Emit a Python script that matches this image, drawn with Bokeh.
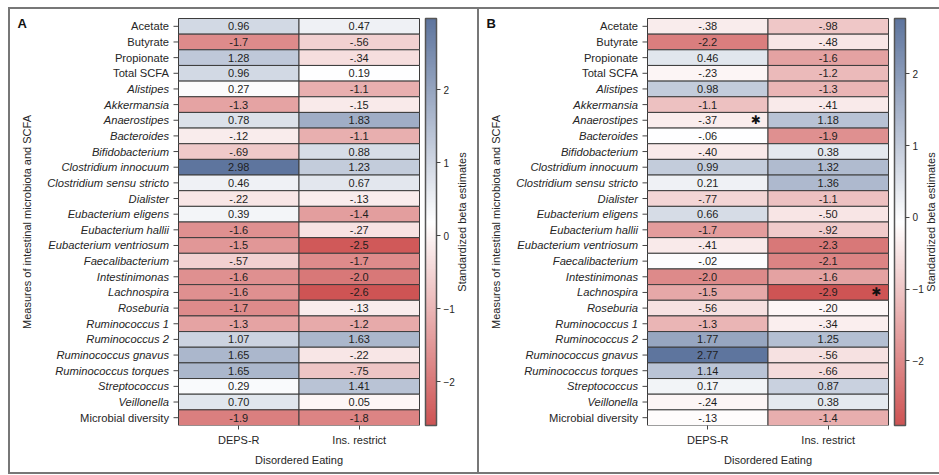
from math import pi
from bokeh.plotting import figure
from bokeh.models import (ColumnDataSource, LinearColorMapper, ColorBar, FixedTicker, Range1d, Title)
from bokeh.layouts import row
from bokeh.embed import file_html
from bokeh.resources import INLINE
from bokeh.transform import transform
from bokeh.core.properties import value, field

# ---------------- data ----------------
rows = ["Acetate", "Butyrate", "Propionate", "Total SCFA", "Alistipes", "Akkermansia",
        "Anaerostipes", "Bacteroides", "Bifidobacterium", "Clostridium innocuum",
        "Clostridium sensu stricto", "Dialister", "Eubacterium eligens", "Eubacterium hallii",
        "Eubacterium ventriosum", "Faecalibacterium", "Intestinimonas", "Lachnospira",
        "Roseburia", "Ruminococcus 1", "Ruminococcus 2", "Ruminococcus gnavus",
        "Ruminococcus torques", "Streptococcus", "Veillonella", "Microbial diversity"]
plain_rows = ["Acetate", "Butyrate", "Propionate", "Total SCFA", "Microbial diversity"]
cols = ["DEPS-R", "Ins. restrict"]

a_deps = [0.96, -1.7, 1.28, 0.96, 0.27, -1.3, 0.78, -0.12, -0.69, 2.98, 0.46, -0.22, 0.39,
          -1.6, -1.5, -0.57, -1.6, -1.6, -1.7, -1.3, 1.07, 1.65, 1.65, 0.29, 0.70, -1.9]
a_ins = [0.47, -0.56, -0.34, 0.19, -1.1, -0.15, 1.83, -1.1, 0.88, 1.23, 0.67, -0.13, -1.4,
         -0.27, -2.5, -1.7, -2.0, -2.6, -0.13, -1.2, 1.63, -0.22, -0.75, 1.41, 0.05, -1.8]
b_deps = [-0.38, -2.2, 0.46, -0.23, 0.98, -1.1, -0.37, -0.06, -0.40, 0.99, 0.21, -0.77, 0.66,
          -1.7, -0.41, -0.02, -2.0, -1.5, -0.56, -1.3, 1.77, 2.77, 1.14, 0.17, -0.24, -0.13]
b_ins = [-0.98, -0.48, -1.6, -1.2, -1.3, -0.41, 1.18, -1.9, 0.38, 1.32, 1.36, -1.1, -0.50,
         -0.92, -2.3, -2.1, -1.6, -2.9, -0.20, -0.34, 1.25, -0.56, -0.66, 0.87, 0.38, -1.4]
a_stars = []
b_stars = [("DEPS-R", "Anaerostipes"), ("Ins. restrict", "Lachnospira")]

cb_ticks = [-2, -1, 0, 1, 2]
x_title = "Disordered Eating"
y_title = "Measures of intestinal microbiota and SCFA"
cb_title = "Standardized beta estimates"

# ---------------- style / layout ----------------
FONT = "Liberation Sans"
TXT = "#262626"
LOW = (206, 84, 84)
MID = (255, 255, 255)
HIGH = (94, 117, 158)

H = 463            # figure height
BOTTOM = 47        # space for the x axis
TOP_PAD = 9        # px between top of frame and first row
LEFT_PX = 168      # px between frame left and first column
CELL_PX = 120.5    # px per column
FRAME_H = H - BOTTOM
ROW_PX = (FRAME_H - TOP_PAD) / len(rows)
XTITLE_HALF_W = 44  # half the rendered width of the x title


def ramp(n=256):
    out = []
    for i in range(n):
        t = i / (n - 1)
        if t < 0.5:
            a, b, f = LOW, MID, t / 0.5
        else:
            a, b, f = MID, HIGH, (t - 0.5) / 0.5
        c = [round(a[k] + (b[k] - a[k]) * f) for k in range(3)]
        out.append("#%02x%02x%02x" % tuple(c))
    return out


PALETTE = ramp()


def fmt(v):
    if v >= 0:
        return f"{v:.2f}"
    if v > -1:
        return "-" + f"{-v:.2f}"[1:]
    return f"{v:.1f}"


def make_panel(letter, deps, ins, stars, width, margin):
    n = len(rows)
    m = len(cols)
    vals = deps + ins
    mapper = LinearColorMapper(palette=PALETTE, low=min(vals), high=max(vals))
    src = ColumnDataSource(dict(
        x=[0.5] * n + [1.5] * n,
        y=list(range(n)) * 2,
        v=vals,
        t=[fmt(v) for v in vals],
    ))
    x_range = Range1d(-LEFT_PX / CELL_PX, (width - LEFT_PX) / CELL_PX)
    y_range = Range1d(n - 0.5, -0.5 - TOP_PAD / ROW_PX)
    p = figure(width=width, height=H, x_range=x_range, y_range=y_range,
               output_backend="svg", toolbar_location=None, tools="", title=None,
               y_axis_location=None, min_border_left=0, min_border_right=0,
               min_border_top=0, min_border_bottom=BOTTOM, margin=margin,
               styles={"background-color": "white"})
    p.grid.visible = False
    p.outline_line_color = None
    p.background_fill_color = "white"
    p.border_fill_color = "white"

    # heatmap cells and values
    p.rect(x="x", y="y", width=1, height=1, source=src,
           fill_color=transform("v", mapper), line_color="#3c3c3c", line_width=1)
    p.text(x="x", y="y", text="t", source=src, text_align="center", text_baseline="middle",
           text_font=value(FONT), text_font_size="11px", text_color="#1e1e1e")

    if stars:
        ssrc = ColumnDataSource(dict(x=[cols.index(s[0]) + 0.5 for s in stars],
                                     y=[rows.index(s[1]) for s in stars],
                                     t=["\u2731"] * len(stars)))
        p.text(x="x", y="y", text="t", source=ssrc, x_offset=48, text_align="center",
               text_baseline="middle", text_font=value("DejaVu Sans"),
               text_font_size="12px", text_color="#111111")

    # row labels with tick marks
    lsrc = ColumnDataSource(dict(
        x=[0] * n, y=list(range(n)), text=rows,
        style=["normal" if r in plain_rows else "italic" for r in rows]))
    p.ray(x="x", y="y", source=lsrc, length=5, length_units="screen", angle=pi,
          line_color="#444444", line_width=1)
    p.text(x="x", y="y", text="text", source=lsrc, x_offset=-9.5, text_align="right",
           text_baseline="middle", text_font=value(FONT), text_font_size="11.2px",
           text_font_style=field("style"), text_color=TXT)

    # titles
    tsrc = ColumnDataSource(dict(x=[0, m], y=[(n - 1) / 2] * 2, t=[y_title, cb_title],
                                 off=[-152, 42]))
    p.text(x="x", y="y", text="t", source=tsrc, x_offset="off", angle=pi / 2,
           text_align="center", text_baseline="middle", text_font=value(FONT),
           text_font_size="11px", text_color=TXT)
    p.text(x=[0], y=[0], text=[letter], x_offset=-161, y_offset=-3, text_align="left",
           text_baseline="middle", text_font=value(FONT), text_font_size="13px",
           text_font_style="bold", text_color="#111111")

    # x axis
    xa = p.xaxis[0]
    xa.ticker = FixedTicker(ticks=[i + 0.5 for i in range(m)])
    xa.major_label_overrides = {i + 0.5: c for i, c in enumerate(cols)}
    xa.major_label_text_font = FONT
    xa.major_label_text_font_size = "11px"
    xa.major_label_text_color = TXT
    xa.major_label_standoff = 4
    xa.axis_line_color = None
    xa.major_tick_out = 4
    xa.major_tick_in = 0
    xa.major_tick_line_color = "#444444"
    xa.minor_tick_line_color = None

    # x title, centred under the cells
    p.add_layout(Title(text=x_title, align="left",
                       offset=LEFT_PX + m * CELL_PX / 2 - XTITLE_HALF_W,
                       standoff=6, text_font=FONT, text_font_size="11px",
                       text_font_style="normal", text_color=TXT), "below")

    # colour bar
    cb = ColorBar(color_mapper=mapper, width=11, height=int(round(FRAME_H - TOP_PAD)),
                  location=(LEFT_PX + m * CELL_PX + 6, 0), padding=0, margin=0,
                  ticker=FixedTicker(ticks=cb_ticks), major_tick_out=4, major_tick_in=0,
                  major_tick_line_color="#444444", label_standoff=3,
                  major_label_text_font=FONT, major_label_text_font_size="10px",
                  major_label_text_color=TXT, bar_line_color="#555555", bar_line_width=1.5,
                  border_line_color=None, background_fill_color=None)
    p.add_layout(cb, "center")
    return p


pA = make_panel("A", a_deps, a_ins, a_stars, 467, (2, 2, 2, 2))
pB = make_panel("B", b_deps, b_ins, b_stars, 460, (2, 0, 2, 0))

layout = row(pA, pB, margin=(7, 0, 0, 8), styles={"background-color": "#777777"})
open("out.html", "w").write(file_html(layout, INLINE))
